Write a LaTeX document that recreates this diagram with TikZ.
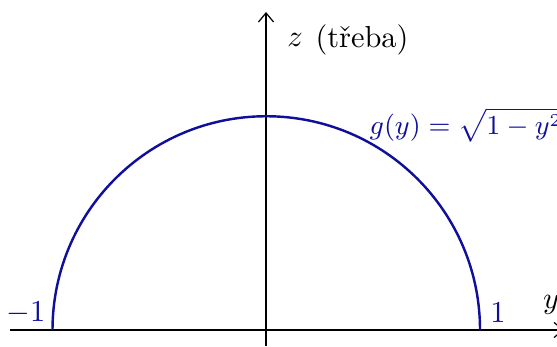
\documentclass[tikz,border=0pt]{standalone}
\usepackage{amsmath}
\usetikzlibrary{arrows.meta}
\definecolor{curveblue}{RGB}{15,15,155}
\begin{document}
\begin{tikzpicture}[x=0.3289pt,y=-0.3289pt,
  axis/.style={line width=0.4pt,black,-{Straight Barb[length=3pt,width=5pt]}},
  curve/.style={line width=0.8pt,curveblue},
  lbl/.style={text=curveblue,inner sep=0pt}]
\useasboundingbox (0,0) rectangle (557,347);
\coordinate (ystart) at (10,330);
\coordinate (yend) at (564,330);
\coordinate (zstart) at (266,346);
\coordinate (zend) at (266,12);
\draw[axis] (ystart) -- (yend);
\draw[axis] (zstart) -- (zend);
\coordinate (L) at (52.5,330);
\draw[curve] (L) arc[start angle=180,end angle=360,radius=213.75];
\node[inner sep=0pt] (ylab) at (551,305) {$y$};
\node[inner sep=0pt] (zlab) at (295,40) {$z$};
\node[inner sep=0pt] (treba) at (362,40) {(třeba)};
\node[lbl] (m1) at (26,313) {$-1$};
\node[lbl] (p1) at (498,313) {$1$};
\node[lbl,anchor=west,font=\small] (g) at (369,125) {$g(y)=\sqrt{1-y^2}$};
\end{tikzpicture}
\end{document}
